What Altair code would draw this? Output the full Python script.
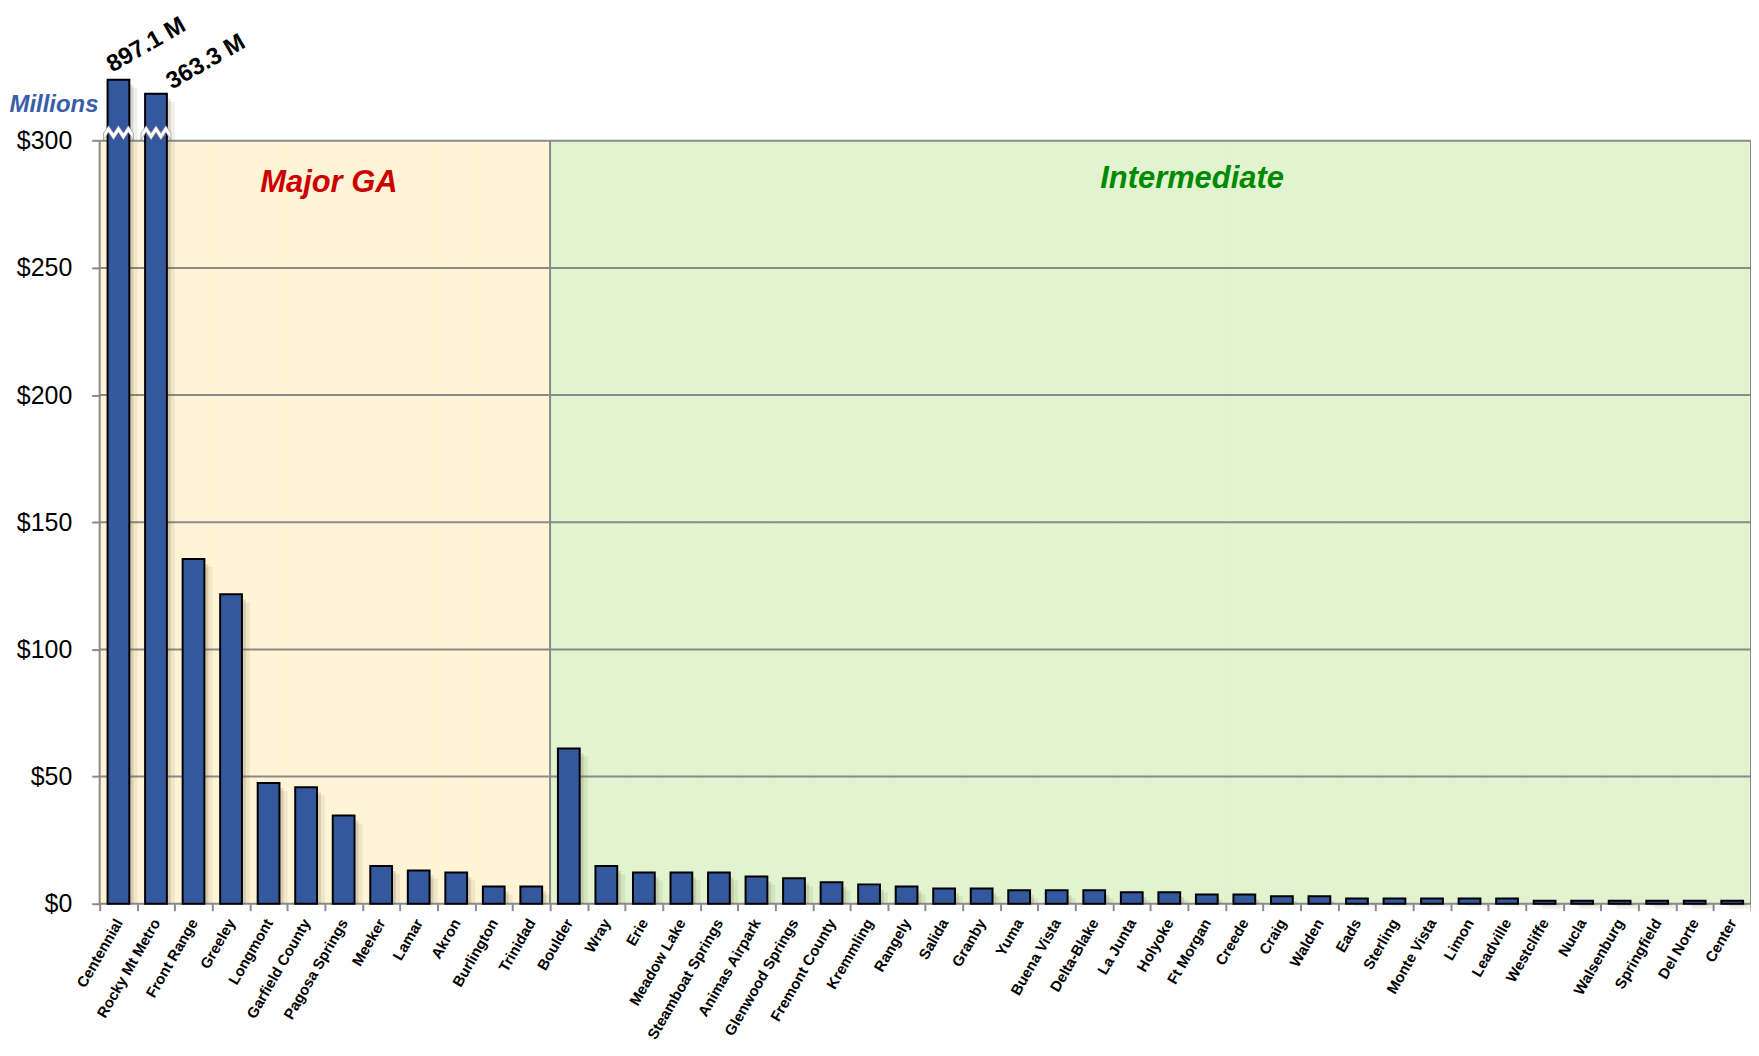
import altair as alt
import pandas as pd

categories = ["Centennial", "Rocky Mt Metro", "Front Range", "Greeley", "Longmont",
              "Garfield County", "Pagosa Springs", "Meeker", "Lamar", "Akron",
              "Burlington", "Trinidad", "Boulder", "Wray", "Erie", "Meadow Lake",
              "Steamboat Springs", "Animas Airpark", "Glenwood Springs", "Fremont County",
              "Kremmling", "Rangely", "Salida", "Granby", "Yuma", "Buena Vista",
              "Delta-Blake", "La Junta", "Holyoke", "Ft Morgan", "Creede", "Craig",
              "Walden", "Eads", "Sterling", "Monte Vista", "Limon", "Leadville",
              "Westcliffe", "Nucla", "Walsenburg", "Springfield", "Del Norte", "Center"]
values = [897.1, 363.3, 135.5, 121.7, 47.5, 45.8, 34.7, 14.8, 13.1, 12.3, 6.8, 6.8,
          61.0, 14.8, 12.3, 12.3, 12.3, 10.7, 10.0, 8.4, 7.6, 6.8, 6.0, 6.0, 5.3, 5.3,
          5.3, 4.5, 4.5, 3.6, 3.6, 2.9, 2.9, 2.0, 2.0, 2.0, 2.0, 2.0, 1.2, 1.2, 1.2,
          1.2, 1.2, 1.2]
regions = ["Major GA"] * 12 + ["Intermediate"] * 32
region_names = ["Major GA", "Intermediate"]
region_colors = ["#FFF5D6", "#E1F3CF"]
region_text_colors = ["#CC0000", "#008A00"]
region_label_anchor = ["Garfield County", "Holyoke"]

axis_break = 300               # the value axis is broken above $300
broken_bar_top = [324, 318.5]  # drawn height of the two bars that pass the break
label_nudge = [(-6, -7), (16, -4)]  # pixel nudge of the two value labels
y_ticks = [0, 50, 100, 150, 200, 250, 300]

df = pd.DataFrame({"cat": categories, "value": values, "region": regions})
df["y"] = df["value"].clip(upper=axis_break)
broken = df[df["value"] > axis_break].copy()
broken["y"] = broken_bar_top
broken["label"] = [f"{v:.1f} M" for v in broken["value"]]
df.loc[broken.index, "y"] = broken["y"]
df["y2"] = 0

bg = df[["cat", "region"]].copy()
bg["y"] = axis_break
bg["y2"] = 0

grid_df = pd.DataFrame({"y": y_ticks})
vborder_start = pd.DataFrame({"cat": [categories[0], categories[12]], "y2": 0, "y": axis_break})
vborder_end = pd.DataFrame({"cat": [categories[-1]], "y2": 0, "y": axis_break})
region_lab = pd.DataFrame({"cat": region_label_anchor, "name": region_names,
                           "y": [280, 281.5]})
break_df = broken[["cat"]].copy()
break_df["y"] = axis_break + 3

FONT = "Liberation Sans"
GRAY = "#8A8A8A"

x_scale = alt.Scale(domain=categories, paddingInner=0, paddingOuter=0)
y_scale = alt.Scale(domain=[0, 351.5], nice=False, zero=True)


def X(**kw):
    return alt.X("cat:N", scale=x_scale, sort=categories, **kw)


def Y():
    return alt.Y("y:Q", scale=y_scale)


background = alt.Chart(bg).mark_bar(strokeWidth=1, width=alt.RelativeBandSize(1)).encode(
    x=alt.X("cat:N", scale=x_scale, sort=categories, title=None,
            axis=alt.Axis(labelAngle=300, labelAlign="right", labelBaseline="middle",
                          labelOffset=0, labelPadding=9, tickBand="extent")),
    y=alt.Y("y:Q", scale=y_scale, title="Millions",
            axis=alt.Axis(values=y_ticks, labelExpr="'$' + datum.label")),
    y2="y2:Q",
    fill=alt.Fill("region:N", scale=alt.Scale(domain=region_names, range=region_colors), legend=None),
    stroke=alt.Stroke("region:N", scale=alt.Scale(domain=region_names, range=region_colors), legend=None),
)

grid = alt.Chart(grid_df).mark_rule(color=GRAY, strokeWidth=2).encode(y=Y())

vlines1 = alt.Chart(vborder_start).mark_rule(color=GRAY, strokeWidth=2).encode(
    x=X(bandPosition=0), y=Y(), y2="y2:Q",
)
vlines2 = alt.Chart(vborder_end).mark_rule(color=GRAY, strokeWidth=2).encode(
    x=X(bandPosition=1), y=Y(), y2="y2:Q",
)

shadow1 = alt.Chart(df).mark_bar(color="#6b6040", opacity=0.18, xOffset=4, yOffset=5, y2Offset=0,
                                 width=alt.RelativeBandSize(0.58)).encode(
    x=X(), y=Y(), y2="y2:Q"
)
shadow2 = alt.Chart(df).mark_bar(color="#6b6040", opacity=0.10, xOffset=8, yOffset=8, y2Offset=0,
                                 width=alt.RelativeBandSize(0.58)).encode(
    x=X(), y=Y(), y2="y2:Q"
)

bars = alt.Chart(df).mark_bar(color="#34589E", stroke="black", strokeWidth=2,
                              width=alt.RelativeBandSize(0.58)).encode(
    x=X(), y=Y(), y2="y2:Q"
)

zig = ("M-1,0 L-0.66,-0.5 L-0.33,0 L0,-0.5 L0.33,0 L0.66,-0.5 L1,0 "
       "L1,0.45 L0.66,-0.05 L0.33,0.45 L0,-0.05 L-0.33,0.45 L-0.66,-0.05 L-1,0.45 Z")
breaks = alt.Chart(break_df).mark_point(shape=zig, filled=True, fill="white", stroke="#8f8f8f",
                                        strokeWidth=0.7, opacity=1, size=900).encode(
    x=X(), y=Y()
)

value_layers = []
for (i, row), (ndx, ndy) in zip(broken.iterrows(), label_nudge):
    value_layers.append(
        alt.Chart(pd.DataFrame([row])).mark_text(
            angle=330, align="left", baseline="alphabetic", font=FONT, fontSize=24,
            fontWeight="bold", color="black", xOffset=ndx, yOffset=ndy
        ).encode(x=X(), y=Y(), text="label:N")
    )

region_text = alt.Chart(region_lab).mark_text(align="center", baseline="alphabetic", font=FONT,
                                              fontSize=31, fontWeight="bold", fontStyle="italic",
                                              dx=4).encode(
    x=X(bandPosition=1), y=Y(), text="name:N",
    color=alt.Color("name:N", scale=alt.Scale(domain=region_names, range=region_text_colors), legend=None),
)

chart = alt.layer(background, grid, vlines1, vlines2, shadow1, shadow2, bars, breaks,
                  *value_layers, region_text).resolve_scale(
    color="independent", fill="independent", stroke="independent").properties(
    width=1657, height=897,
    autosize=alt.AutoSizeParams(type="none"),
    padding={"left": 92, "top": 0, "right": 0, "bottom": 139},
    background="white",
).configure_view(stroke=None).configure_axis(
    grid=False, domain=False, labelFont=FONT, labelColor="black",
    tickColor=GRAY, tickWidth=2, titleFont=FONT,
).configure_axisX(
    labelFontSize=15, labelFontWeight="bold", tickSize=7,
).configure_axisY(
    labelFontSize=25, labelPadding=20, tickSize=8,
    titleAngle=0, titleAlign="left", titleBaseline="alphabetic",
    titleX=-91, titleY=102, titleFontSize=24, titleFontStyle="italic",
    titleFontWeight="bold", titleColor="#3A5DA8",
)

chart.save("out.html", embed_options={"renderer": "svg", "actions": False})
